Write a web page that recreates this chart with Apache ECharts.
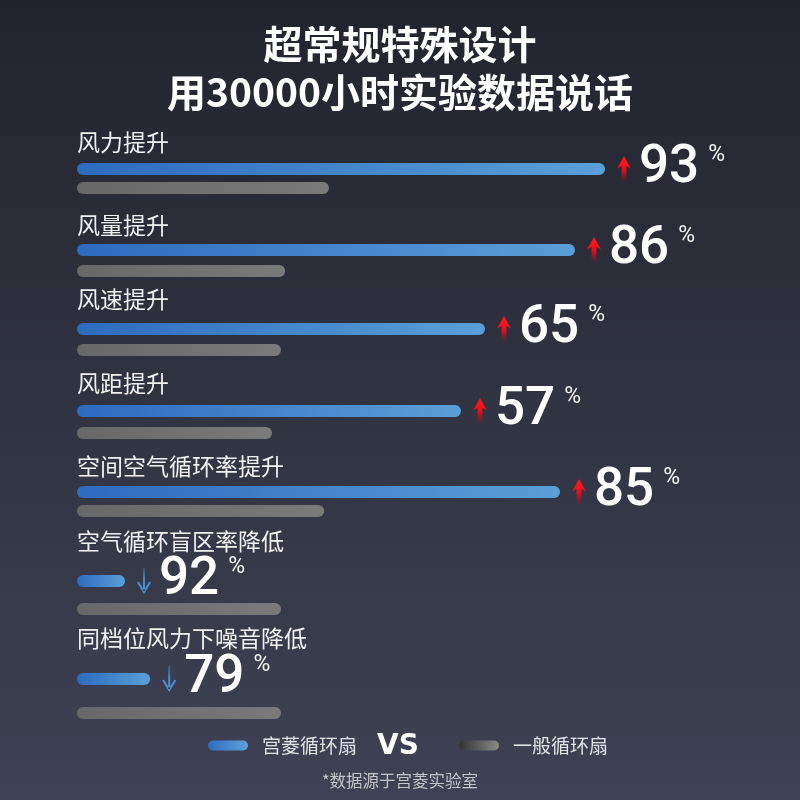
<!DOCTYPE html>
<html>
<head>
<meta charset="utf-8">
<script src="https://cdn.jsdelivr.net/npm/echarts@6/dist/echarts.min.js"></script>
<style>
html,body{margin:0;padding:0;background:#2b2e38;}
#chart{width:800px;height:800px;}
</style>
</head>
<body>
<div id="chart"></div>
<script>
// ---------- data ----------
const categories = ['风力提升', '风量提升', '风速提升', '风距提升', '空间空气循环率提升', '空气循环盲区率降低', '同档位风力下噪音降低'];
const seriesNames = ['宫菱循环扇', '一般循环扇'];
const gonglingValues = [88, 83, 68, 64, 80.5, 8, 12.2];
const ordinaryValues = [42, 34.7, 34, 32.5, 41.2, 34, 34];
const changePercent = [93, 86, 65, 57, 85, 92, 79];
const changeDirection = ['up', 'up', 'up', 'up', 'up', 'down', 'down'];
const titleLines = ['超常规特殊设计', '用30000小时实验数据说话'];
const footnote = '*数据源于宫菱实验室';

// ---------- layout (pixel centres of each row's label / bars) ----------
const rowLayout = [
  { label: 142, blue: 169, gray: 188 },
  { label: 225, blue: 250, gray: 271 },
  { label: 299, blue: 329, gray: 350 },
  { label: 383, blue: 411, gray: 433 },
  { label: 466, blue: 492, gray: 511 },
  { label: 541, blue: 581, gray: 609 },
  { label: 638, blue: 679, gray: 713 }
];
const BAR_H = 12;
const CJK = '"Noto Sans CJK SC", "Noto Sans", sans-serif';
const G = echarts.graphic;

const blueGrad = () => new G.LinearGradient(0, 0, 1, 0, [
  { offset: 0, color: '#2d6bbf' }, { offset: 1, color: '#5a9fd8' }]);
const grayGrad = () => new G.LinearGradient(0, 0, 1, 0, [
  { offset: 0, color: '#686868' }, { offset: 1, color: '#7a7a7a' }]);
const redArrow = new G.LinearGradient(0, 0, 0, 1, [
  { offset: 0, color: '#ff1b1b' }, { offset: 0.55, color: '#e3101c' }, { offset: 1, color: 'rgba(190,0,20,0)' }]);
const blueArrow = new G.LinearGradient(0, 0, 0, 1, [
  { offset: 0, color: 'rgba(70,140,205,0.35)' }, { offset: 0.5, color: '#4b8fd0' }, { offset: 1, color: '#4f95d6' }]);

const upPath = 'path://M7,0 L14,12.5 L9.4,10 L9.4,26 L4.6,26 L4.6,10 L0,12.5 Z';
const downPath = 'path://M6,0 L8,0 L8,23 L6,23 Z M0,14.5 L7,26 L14,14.5 L12.3,13.4 L7,22 L1.7,13.4 Z';
const pill = 'path://M5,0 L35,0 A5,5 0 0 1 35,10 L5,10 A5,5 0 0 1 5,0 Z';

const grids = [], xAxes = [], yAxes = [], series = [];

categories.forEach((name, i) => {
  const L = rowLayout[i];
  // blue (宫菱) grid
  let gi = grids.length;
  grids.push({ left: 77, right: 123, top: L.blue - BAR_H / 2, height: BAR_H });
  xAxes.push({ type: 'value', gridIndex: gi, min: 0, max: 100, show: false });
  yAxes.push({ type: 'category', gridIndex: gi, data: [name], show: false });
  series.push({
    type: 'bar', name: seriesNames[0], xAxisIndex: gi, yAxisIndex: gi,
    data: [gonglingValues[i]], barWidth: BAR_H, silent: true,
    itemStyle: { color: blueGrad(), borderRadius: BAR_H / 2 },
    label: {
      show: true, position: [0, L.label - L.blue + BAR_H / 2], align: 'left', verticalAlign: 'middle',
      formatter: name, color: '#f0f0f0', fontSize: 23, fontFamily: CJK
    }
  });
  const up = changeDirection[i] === 'up';
  series.push({
    type: 'scatter', xAxisIndex: gi, yAxisIndex: gi, silent: true, z: 5,
    data: [[gonglingValues[i], 0]],
    symbol: up ? upPath : downPath, symbolSize: [14, 26], symbolOffset: [19, 0],
    itemStyle: { color: up ? redArrow : blueArrow, opacity: 1 },
    label: {
      show: true, position: 'right', distance: 8,
      formatter: '{n|' + changePercent[i] + '}{p|%}',
      rich: {
        n: { fontSize: 53, lineHeight: 52, color: '#ffffff', fontFamily: 'Roboto', fontWeight: 500 },
        p: { fontSize: 23, lineHeight: 22, color: '#f4f4f4', fontFamily: 'Roboto', verticalAlign: 'top', padding: [1, 0, 0, 9] }
      }
    }
  });
  // gray (一般) grid
  gi = grids.length;
  grids.push({ left: 77, right: 123, top: L.gray - BAR_H / 2, height: BAR_H });
  xAxes.push({ type: 'value', gridIndex: gi, min: 0, max: 100, show: false });
  yAxes.push({ type: 'category', gridIndex: gi, data: [name], show: false });
  series.push({
    type: 'bar', name: seriesNames[1], xAxisIndex: gi, yAxisIndex: gi,
    data: [ordinaryValues[i]], barWidth: BAR_H, silent: true,
    itemStyle: { color: grayGrad(), borderRadius: BAR_H / 2 }
  });
});

const option = {
  animation: false,
  backgroundColor: new G.LinearGradient(0, 0, 0, 1, [
    { offset: 0, color: '#22242d' }, { offset: 1, color: '#3f4254' }]),
  title: [
    {
      text: titleLines[0], left: 'center', top: 20, padding: 0,
      textStyle: { color: '#ffffff', fontSize: 39, fontWeight: 'bold', lineHeight: 48, fontFamily: CJK }
    },
    {
      text: titleLines[1], left: 'center', top: 68, padding: 0,
      textStyle: { color: '#ffffff', fontSize: 39, fontWeight: 'bold', lineHeight: 48, fontFamily: CJK }
    },
    {
      text: footnote, left: 'center', top: 772, padding: 0,
      textStyle: { color: '#c4c5cb', fontSize: 16.5, fontWeight: 'normal', fontFamily: CJK }
    }
  ],
  legend: {
    left: 208, top: 736, padding: 0, itemWidth: 40, itemHeight: 10, itemGap: 102,
    icon: pill, selectedMode: false,
    data: [
      { name: seriesNames[0], itemStyle: { color: new G.LinearGradient(0, 0, 1, 0, [{ offset: 0, color: '#2e6cbf' }, { offset: 1, color: '#5ca2da' }]) } },
      { name: seriesNames[1], itemStyle: { color: new G.LinearGradient(0, 0, 1, 0, [{ offset: 0, color: '#333336' }, { offset: 1, color: '#8a8a8a' }]) } }
    ],
    textStyle: { color: '#e2e3e6', fontSize: 19, fontFamily: CJK, padding: [0, 0, 0, 9] }
  },
  graphic: [{
    type: 'text', left: 377, top: 733,
    style: { text: 'VS', fill: '#ffffff', fontSize: 28, fontWeight: 'bold', fontFamily: '"DejaVu Sans", sans-serif' }
  }],
  grid: grids, xAxis: xAxes, yAxis: yAxes, series: series
};

const chart = echarts.init(document.getElementById('chart'), null, { renderer: 'canvas' });
chart.setOption(option);
</script>
</body>
</html>
